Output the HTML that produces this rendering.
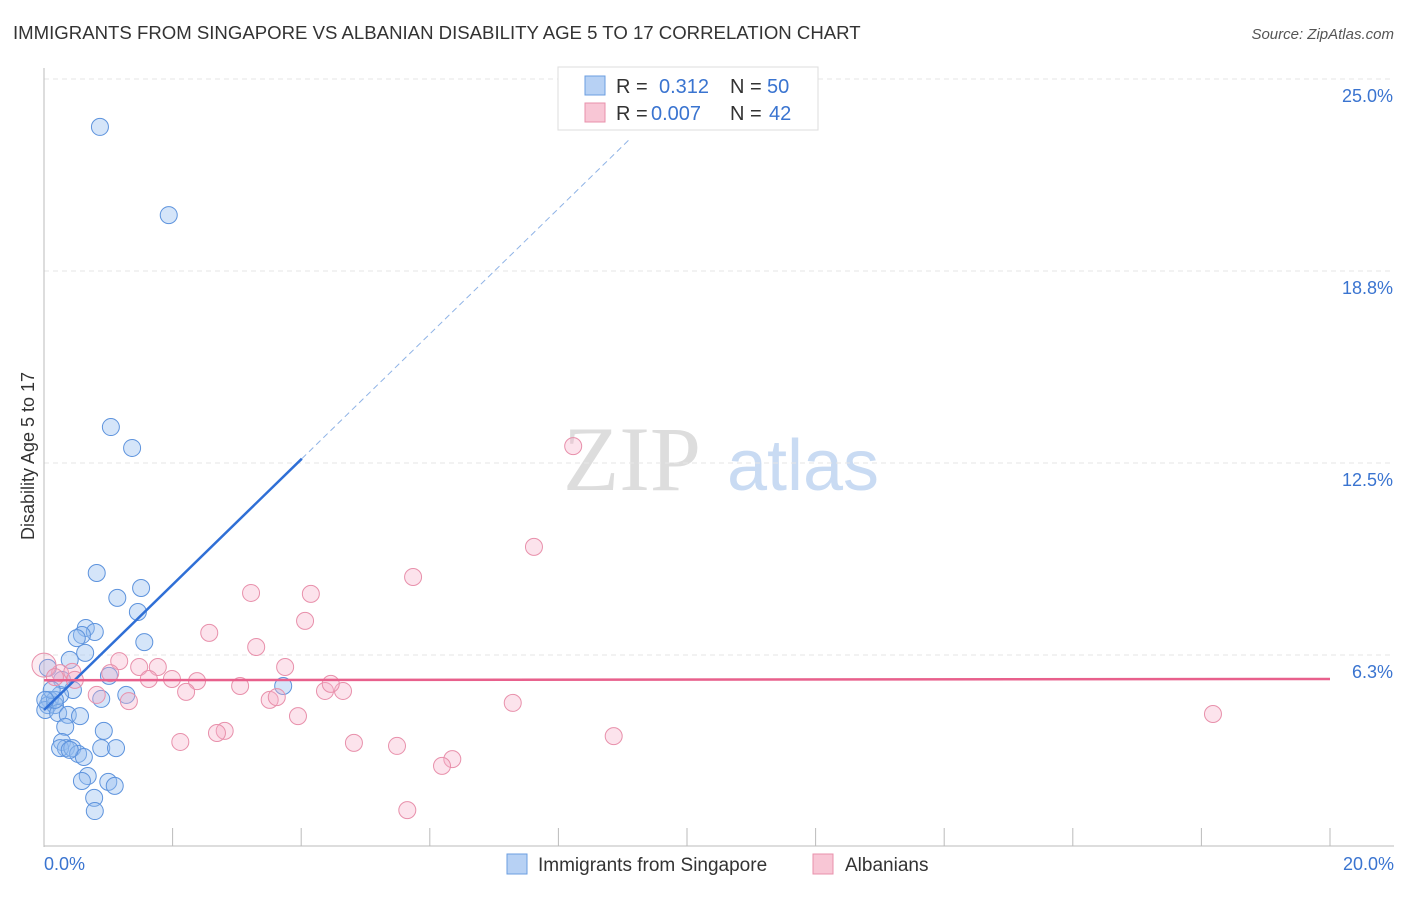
<!DOCTYPE html>
<html><head><meta charset="utf-8"><style>
body{margin:0;background:#fff;font-family:"Liberation Sans",sans-serif}
</style></head><body>
<svg id="chart" width="1406" height="892" xmlns="http://www.w3.org/2000/svg" font-family="Liberation Sans, sans-serif">
<text x="13" y="39" font-size="18.6" fill="#333">IMMIGRANTS FROM SINGAPORE VS ALBANIAN DISABILITY AGE 5 TO 17 CORRELATION CHART</text>
<text x="1394" y="39" font-size="15" fill="#555" text-anchor="end" font-style="italic">Source: ZipAtlas.com</text>
<g>
<text x="632" y="490" font-size="92" fill="#ddd" text-anchor="middle" font-family="Liberation Serif, serif">ZIP</text>
<text x="803" y="490" font-size="72" fill="#c9dbf3" text-anchor="middle">atlas</text>
</g>
<g id="grid"></g>
<g id="axes"></g>
<g id="marks"></g>
<text transform="translate(34,456) rotate(-90)" font-size="18" fill="#333" text-anchor="middle">Disability Age 5 to 17</text>
<g>
<rect x="558" y="67" width="260" height="63" fill="#fff" stroke="#ddd"/>
<rect x="585" y="76" width="20" height="19" fill="#b7d1f4" stroke="#6b9ee0"/>
<rect x="585" y="103" width="20" height="19" fill="#f8c6d5" stroke="#e890ab"/>
<text x="616" y="93" font-size="20" fill="#333">R = </text><text x="659" y="93" font-size="20" fill="#3a74d0">0.312</text>
<text x="730" y="93" font-size="20" fill="#333">N = </text><text x="767" y="93" font-size="20" fill="#3a74d0">50</text>
<text x="616" y="120" font-size="20" fill="#333">R = </text><text x="651" y="120" font-size="20" fill="#3a74d0">0.007</text>
<text x="730" y="120" font-size="20" fill="#333">N = </text><text x="769" y="120" font-size="20" fill="#3a74d0">42</text>
</g>
<g>
<rect x="507" y="854" width="20" height="20" fill="#b7d1f4" stroke="#6b9ee0"/>
<text x="538" y="871" font-size="19" fill="#333">Immigrants from Singapore</text>
<rect x="813" y="854" width="20" height="20" fill="#f8c6d5" stroke="#e890ab"/>
<text x="845" y="871" font-size="19" fill="#333">Albanians</text>
</g>
</svg>
<script>
const yTicks=[6.25,12.5,18.75,25];
const yTickLabels=["6.3%","12.5%","18.8%","25.0%"];
const xTicks=[0,2,4,6,8,10,12,14,16,18,20];
const xEndLabels=["0.0%","20.0%"];
const blueX=[0.87,1.94,1.04,1.37,0.82,1.51,1.14,1.46,0.65,0.79,0.59,0.51,1.56,0.64,0.40,1.01,0.06,0.45,0.25,0.09,0.06,0.17,0.02,0.22,0.37,0.56,0.89,1.28,3.72,0.33,0.93,0.28,0.34,0.25,0.44,0.89,1.12,0.53,0.62,0.68,0.59,1.00,1.10,0.78,0.79,0.17,0.28,0.12,0.40,0.02];
const blueY=[23.44,20.57,13.67,12.99,8.92,8.43,8.11,7.65,7.13,7.00,6.90,6.80,6.67,6.32,6.09,5.57,5.83,5.11,4.95,4.79,4.62,4.62,4.46,4.36,4.30,4.26,4.82,4.95,5.24,3.91,3.78,3.42,3.22,3.22,3.22,3.22,3.22,3.03,2.93,2.31,2.15,2.12,1.99,1.60,1.17,4.79,5.44,5.11,3.16,4.79];
const pinkX=[8.23,7.62,5.74,3.22,4.15,4.06,2.57,3.30,3.75,0.25,0.44,1.17,1.48,1.77,1.03,1.63,1.99,2.38,3.05,4.37,4.65,4.46,2.21,0.82,1.32,3.51,3.62,7.29,3.95,18.18,2.81,2.69,2.12,4.82,5.49,8.86,6.35,6.19,5.65,0,0.17,0.48];
const pinkY=[13.05,9.77,8.79,8.27,8.24,7.36,6.97,6.51,5.86,5.66,5.70,6.05,5.86,5.86,5.66,5.47,5.47,5.40,5.24,5.08,5.08,5.31,5.05,4.95,4.75,4.79,4.88,4.69,4.26,4.33,3.78,3.71,3.42,3.39,3.29,3.61,2.86,2.64,1.20,5.92,5.53,5.44];
const blueTrend=[4.46,2.04];   // intercept, slope
const blueSolidEnd=4.01, blueDashEnd=9.11;
const pinkTrend=[5.43,0.002];

const NS="http://www.w3.org/2000/svg";
const X=v=>44+v/20*1286;
const Y=v=>847-v/25*768;
function mk(tag,attrs,parent){const e=document.createElementNS(NS,tag);for(const k in attrs)e.setAttribute(k,attrs[k]);document.getElementById(parent).appendChild(e);return e;}

yTicks.forEach((t,i)=>{
  const l=mk('line',{x1:44,x2:1394,y1:Y(t),y2:Y(t),stroke:'#e6e6e6','stroke-dasharray':'5,4'},'grid');
  
  
  const tx=mk('text',{x:1393,y:Y(t)+23,'font-size':18,fill:'#3a74d0','text-anchor':'end'},'axes');
  tx.textContent=yTickLabels[i];
  
  
});
const ya=mk('line',{x1:44,x2:44,y1:68,y2:847,stroke:'#bbb'},'axes');


const xa=mk('line',{x1:44,x2:1394,y1:846,y2:846,stroke:'#bbb'},'axes');


xTicks.forEach(t=>{
  const l=mk('line',{x1:X(t),x2:X(t),y1:828,y2:846,stroke:'#bbb'},'axes');
  
  
});
const xl0=mk('text',{x:44,y:870,'font-size':18,fill:'#3a74d0'},'axes');
xl0.textContent=xEndLabels[0];


const xl1=mk('text',{x:1394,y:870,'font-size':18,fill:'#3a74d0','text-anchor':'end'},'axes');
xl1.textContent=xEndLabels[1];



blueX.forEach((x,i)=>{
  const c=mk('circle',{cx:X(x),cy:Y(blueY[i]),r:8.5,fill:'rgba(150,190,240,0.4)',stroke:'#5d93dd','stroke-width':1},'marks');
  
  
});
pinkX.forEach((x,i)=>{
  const c=mk('circle',{cx:X(x),cy:Y(pinkY[i]),r:(i===39?12:8.5),fill:(i===39?'rgba(245,175,200,0.25)':'rgba(245,175,200,0.35)'),stroke:'#e890ab','stroke-width':1},'marks');
  
  
});
const bf=x=>blueTrend[0]+blueTrend[1]*x;
const bl=mk('line',{x1:X(0),y1:Y(bf(0)),x2:X(blueSolidEnd),y2:Y(bf(blueSolidEnd)),stroke:'#2f6fd6','stroke-width':2.5},'marks');


const bd=mk('line',{x1:X(blueSolidEnd),y1:Y(bf(blueSolidEnd)),x2:X(blueDashEnd),y2:Y(bf(blueDashEnd)),stroke:'#8fb3e6','stroke-width':1,'stroke-dasharray':'6,4'},'marks');


const pf=x=>pinkTrend[0]+pinkTrend[1]*x;
const pl=mk('line',{x1:X(0),y1:Y(pf(0)),x2:X(20),y2:Y(pf(20)),stroke:'#e8608c','stroke-width':2.5},'marks');


</script>
</body></html>
